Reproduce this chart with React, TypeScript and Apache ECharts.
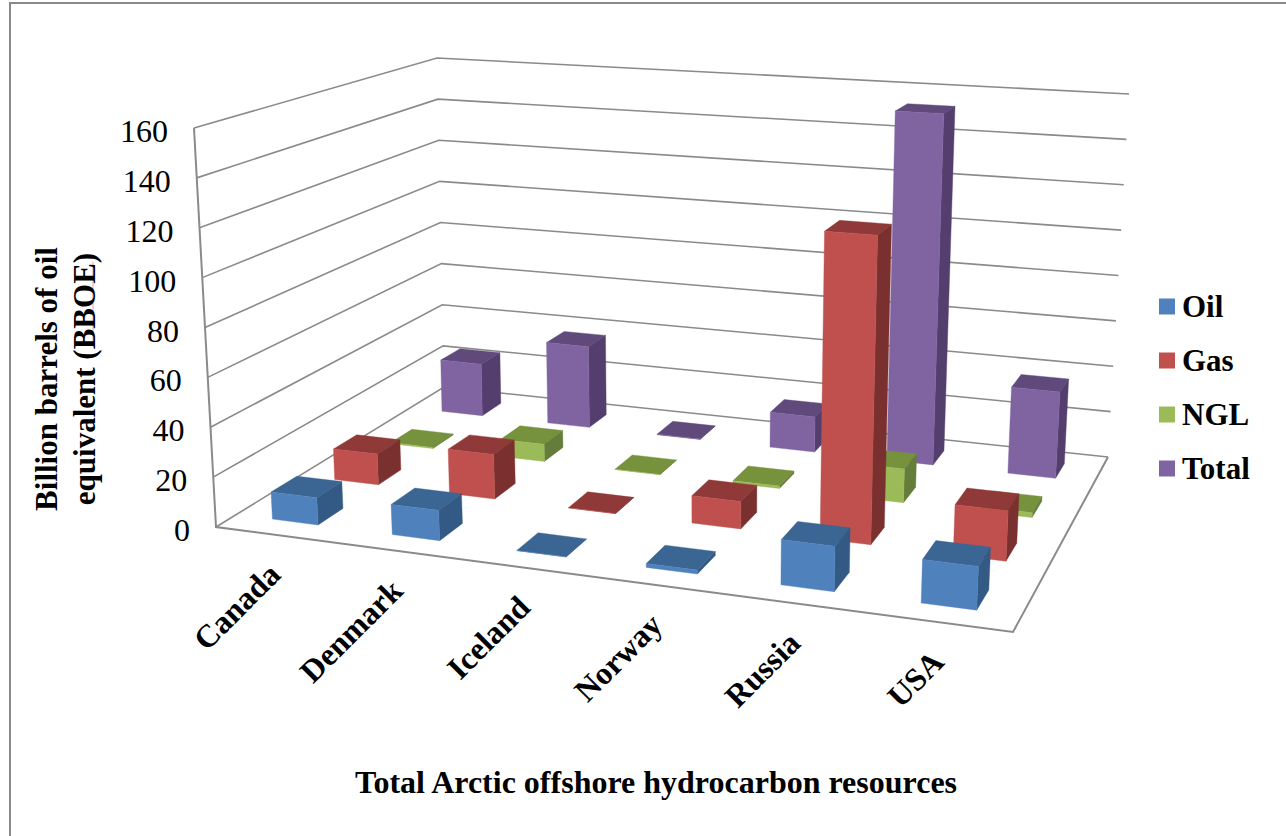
import React, { useEffect, useRef } from "react";
import * as echarts from "echarts";

const categories = ["Canada", "Denmark", "Iceland", "Norway", "Russia", "USA"];
const oil = [11, 12, 0.1, 1.5, 17, 16];
const gas = [13, 18.5, 0.1, 11, 122, 19.5];
const ngl = [0.5, 7.5, 0.1, 1, 14, 2];
const total = [24, 37, 0.2, 15.5, 153, 37];
const tickValues = [0, 20, 40, 60, 80, 100, 120, 140, 160];
const seriesNames = ["Oil", "Gas", "NGL", "Total"];
const axisTitle = "Total Arctic offshore hydrocarbon resources";
const valueTitle = "Billion barrels of oil\nequivalent (BBOE)";

const W = 1286;
const H = 836;
const MAX = 160;
const FONT = '"Liberation Serif", "Times New Roman", serif';
const GRID = "#8a8a8a";

type Pt = [number, number];
const floorQuad: Pt[] = [[216, 527], [1013, 632], [1108, 457], [444, 387]];
const topQuad: Pt[] = [[194, 128], [1034, 185], [1129, 94], [437, 58]];

function makeMap(q: Pt[]) {
  const [[x0, y0], [x1, y1], [x2, y2], [x3, y3]] = q;
  const dx1 = x1 - x2, dx2 = x3 - x2, sx = x0 - x1 + x2 - x3;
  const dy1 = y1 - y2, dy2 = y3 - y2, sy = y0 - y1 + y2 - y3;
  const den = dx1 * dy2 - dx2 * dy1;
  const g = (sx * dy2 - dx2 * sy) / den;
  const h = (dx1 * sy - sx * dy1) / den;
  const a = x1 - x0 + g * x1, b = x3 - x0 + h * x3;
  const d = y1 - y0 + g * y1, e = y3 - y0 + h * y3;
  return (u: number, v: number): Pt => {
    const k = g * u + h * v + 1;
    return [(a * u + b * v + x0) / k, (d * u + e * v + y0) / k];
  };
}
const floorMap = makeMap(floorQuad);
const topMap = makeMap(topQuad);
function project(u: number, v: number, value: number): Pt {
  const f = floorMap(u, v);
  const t = topMap(u, v);
  const w = value / MAX;
  return [f[0] + (t[0] - f[0]) * w, f[1] + (t[1] - f[1]) * w];
}

const BAR_U = 0.385 / categories.length;
const BAR_V = 0.4 / seriesNames.length;
const palette = [
  { front: "#4f81bd", side: "#335a85", top: "#3b6593" },
  { front: "#c0504d", side: "#7a302e", top: "#8f3a38" },
  { front: "#9bbb59", side: "#657d3a", top: "#76923c" },
  { front: "#8064a2", side: "#533e6e", top: "#604a7b" },
];

function poly(points: Pt[], fill: string) {
  return { type: "polygon", shape: { points }, style: { fill, stroke: fill, lineWidth: 0.4 } };
}

function barSeries(row: number, values: number[]) {
  const c = palette[row];
  return {
    type: "custom",
    name: seriesNames[row],
    coordinateSystem: "none",
    itemStyle: { color: c.front },
    data: values.map((v, i) => [i, v]),
    renderItem: (_p: any, api: any) => {
      const i = api.value(0);
      const val = api.value(1);
      const u = (i + 0.5) / categories.length;
      const v = (row + 0.5) / seriesNames.length;
      const u0 = u - BAR_U / 2, u1 = u + BAR_U / 2;
      const v0 = v - BAR_V / 2, v1 = v + BAR_V / 2;
      return {
        type: "group",
        children: [
          poly([project(u0, v0, val), project(u1, v0, val), project(u1, v1, val), project(u0, v1, val)], c.top),
          poly([project(u1, v0, 0), project(u1, v1, 0), project(u1, v1, val), project(u1, v0, val)], c.side),
          poly([project(u0, v0, 0), project(u1, v0, 0), project(u1, v0, val), project(u0, v0, val)], c.front),
        ],
      };
    },
  };
}

const wallSeries = {
  type: "custom",
  name: "walls",
  coordinateSystem: "none",
  silent: true,
  data: tickValues.map((t) => [t]),
  renderItem: (_p: any, api: any) => {
    const t = api.value(0);
    const a = project(0, 0, t);
    const b = project(0, 1, t);
    const c = project(1, 1, t);
    return {
      type: "group",
      children: [
        { type: "polyline", shape: { points: [a, b, c] }, style: { fill: "none", stroke: GRID, lineWidth: 1.6 } },
        {
          type: "text",
          style: {
            text: String(t), x: a[0] - 26, y: a[1] + 3, fill: "#000", font: `32px ${FONT}`,
            align: "right", verticalAlign: "middle", textAlign: "right", textVerticalAlign: "middle",
          },
        },
      ],
    };
  },
};

const frameSeries = {
  type: "custom",
  name: "frame",
  coordinateSystem: "none",
  silent: true,
  data: [[0]],
  renderItem: () => ({
    type: "group",
    children: [
      { type: "polyline", shape: { points: [project(0, 0, MAX), project(0, 0, 0), project(1, 0, 0), project(1, 1, 0)] }, style: { fill: "none", stroke: GRID, lineWidth: 2 } },
    ],
  }),
};

const categorySeries = {
  type: "custom",
  name: "categories",
  coordinateSystem: "none",
  silent: true,
  data: categories.map((_, i) => [i]),
  renderItem: (_p: any, api: any) => {
    const i = api.value(0);
    const p = project((i + 0.5) / categories.length, 0, 0);
    return {
      type: "text",
      x: p[0] - 1,
      y: p[1] + 34,
      rotation: Math.PI / 4,
      style: {
        text: categories[i], x: 0, y: 0, fill: "#000", font: `bold 32px ${FONT}`,
        align: "right", verticalAlign: "middle", textAlign: "right", textVerticalAlign: "middle",
      },
    };
  },
};

export default function App() {
  const ref = useRef<HTMLDivElement>(null);
  useEffect(() => {
    const chart = echarts.init(ref.current!, undefined, { renderer: "svg", width: W, height: H });
    chart.setOption({
      animation: false,
      backgroundColor: "#fff",
      legend: {
        data: seriesNames,
        orient: "vertical",
        left: 1154,
        top: 286,
        itemWidth: 16,
        itemHeight: 16,
        itemGap: 23,
        icon: "rect",
        selectedMode: false,
        textStyle: { fontFamily: FONT, fontWeight: "bold", fontSize: 31, color: "#000", padding: [0, 0, 0, 2] },
      },
      graphic: [
        { type: "rect", shape: { x: 10, y: 3, width: 1290, height: 900 }, style: { fill: "none", stroke: GRID, lineWidth: 2 }, silent: true },
        { type: "line", shape: { x1: 93, y1: 262, x2: 93, y2: 346 }, style: { stroke: "#f0a0a0", lineWidth: 1 }, silent: true },
        {
          type: "text", x: 65, y: 379, rotation: Math.PI / 2,
          style: {
            text: valueTitle, x: 0, y: 0, fill: "#000", font: `bold 31px ${FONT}`, lineHeight: 38,
            align: "center", verticalAlign: "middle", textAlign: "center", textVerticalAlign: "middle",
          },
        },
        {
          type: "text", x: 656, y: 782,
          style: {
            text: axisTitle, x: 0, y: 0, fill: "#000", font: `bold 32px ${FONT}`,
            align: "center", verticalAlign: "middle", textAlign: "center", textVerticalAlign: "middle",
          },
        },
      ],
      series: [
        wallSeries,
        frameSeries,
        barSeries(3, total),
        barSeries(2, ngl),
        barSeries(1, gas),
        barSeries(0, oil),
        categorySeries,
      ],
    });
    return () => chart.dispose();
  }, []);
  return <div ref={ref} style={{ position: "fixed", left: 0, top: 0, width: W, height: H }} />;
}
